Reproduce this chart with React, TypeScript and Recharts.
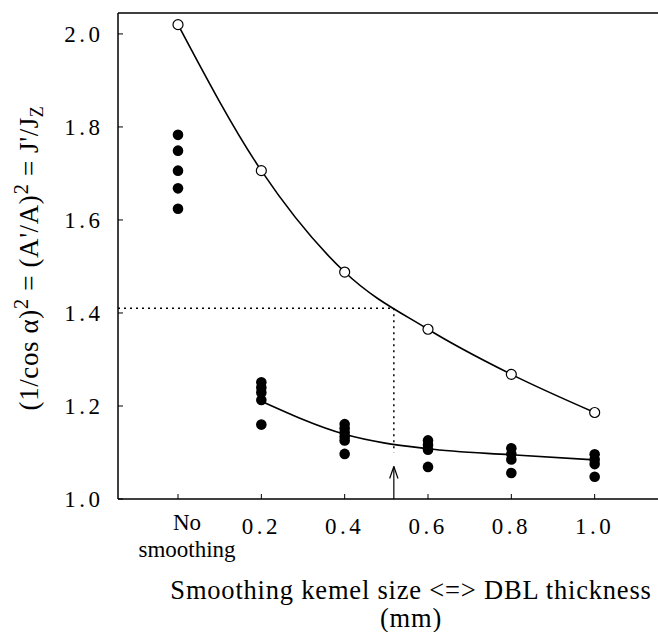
import React from 'react'
import { ComposedChart, Line, Scatter, XAxis, YAxis, ReferenceLine, Label } from 'recharts'

const FONT = 'Liberation Serif'

// x positions: 0 stands for "No smoothing"
const kernelSizes = [0, 0.2, 0.4, 0.6, 0.8, 1.0]
const yTicks = [1.0, 1.2, 1.4, 1.6, 1.8, 2.0]

// open circles, (1/cos a)^2 per kernel size
const openValues = [2.02, 1.706, 1.488, 1.365, 1.268, 1.186]

// fitted curve through the filled points (0.2 .. 1.0)
const fitSizes = [0.2, 0.4, 0.6, 0.8, 1.0]
const fitValues = [1.21, 1.139, 1.108, 1.095, 1.084]

// filled points, one list per kernel size
const dotsNoSmoothing = [1.783, 1.749, 1.706, 1.668, 1.624]
const dots02 = [1.251, 1.240, 1.229, 1.213, 1.160]
const dots04 = [1.161, 1.152, 1.143, 1.134, 1.126, 1.097]
const dots06 = [1.126, 1.116, 1.106, 1.069]
const dots08 = [1.109, 1.097, 1.085, 1.056]
const dots10 = [1.096, 1.085, 1.075, 1.048]

// annotation: 1.41 read at 0.52 mm
const markY = 1.41
const markX = 0.518
const dottedEndY = 1.1
const arrowTipY = 1.07

const X_MIN = -0.144
const X_MAX = 1.152
const Y_MIN = 1.0
const Y_MAX = 2.045

const openData = kernelSizes.map((x, i) => ({ x, y: openValues[i] }))
const fitData = fitSizes.map((x, i) => ({ x, y: fitValues[i] }))
const dotGroups = [dotsNoSmoothing, dots02, dots04, dots06, dots08, dots10]
const filledData = dotGroups.flatMap((ys, i) => ys.map((y) => ({ x: kernelSizes[i], y })))

const XTick = (props: any) => {
  const { x, y, payload } = props
  const v = payload.value
  return (
    <g>
      <line x1={x} y1={y} x2={x} y2={y - 5} stroke="#000" strokeWidth={1} />
      {v === 0 ? (
        <text style={{ fontFamily: FONT }} fontSize={23} fill="#000" textAnchor="middle">
          <tspan x={x + 9} y={y + 31}>No</tspan>
          <tspan x={x + 9} y={y + 58}>smoothing</tspan>
        </text>
      ) : (
        <text x={x} y={y + 35} style={{ fontFamily: FONT }} fontSize={23} letterSpacing={3.5} fill="#000" textAnchor="middle">
          {v.toFixed(1)}
        </text>
      )}
    </g>
  )
}

const YTick = (props: any) => {
  const { x, y, payload } = props
  return (
    <g>
      <line x1={x} y1={y} x2={x + 5} y2={y} stroke="#000" strokeWidth={1} />
      <text x={x - 14.5} y={y} dy="0.35em" style={{ fontFamily: FONT }} fontSize={23} letterSpacing={3.5} fill="#000" textAnchor="end">
        {payload.value.toFixed(1)}
      </text>
    </g>
  )
}

const YTitle = (props: any) => {
  const vb = props.viewBox
  const cx = vb.x + 29
  const cy = vb.y + vb.height / 2 + 2
  return (
    <text x={cx} y={cy} transform={`rotate(-90, ${cx}, ${cy})`} style={{ fontFamily: FONT }} fontSize={27} letterSpacing={0.6} fill="#000" textAnchor="middle" dy="0.35em">
      <tspan>(1/cos α)</tspan>
      <tspan dy={-10} fontSize={21}>2</tspan>
      <tspan dy={10}> = (A'/A)</tspan>
      <tspan dy={-10} fontSize={21}>2</tspan>
      <tspan dy={10}> = J'/J</tspan>
      <tspan dy={5} fontSize={18}>Z</tspan>
    </text>
  )
}

const XTitle = (props: any) => {
  const vb = props.viewBox
  const cx = vb.x + 293
  return (
    <text style={{ fontFamily: FONT }} fontSize={26.5} fill="#000" textAnchor="middle" letterSpacing={0.8}>
      <tspan x={cx} y={vb.y + 100}>Smoothing kemel size &lt;=&gt; DBL thickness</tspan>
      <tspan x={cx} y={vb.y + 128}>(mm)</tspan>
    </text>
  )
}

const OpenDot = (props: any) => {
  const { cx, cy } = props
  if (cx == null || cy == null) return null
  return <circle cx={cx} cy={cy} r={5} fill="#fff" stroke="#000" strokeWidth={1.2} />
}

const FilledDot = (props: any) => {
  const { cx, cy } = props
  if (cx == null || cy == null) return null
  return <circle cx={cx} cy={cy} r={5.3} fill="#000" />
}

export default function App() {
  return (
    <div style={{ position: 'absolute', left: 0, top: 0, background: '#fff' }}>
      <ComposedChart width={658} height={632} margin={{ top: 13, right: 0, bottom: 0, left: 0 }}>
        <XAxis
          type="number"
          dataKey="x"
          domain={[X_MIN, X_MAX]}
          ticks={kernelSizes}
          allowDataOverflow
          height={133}
          tickSize={0}
          tickMargin={0}
          tickLine={false}
          tick={<XTick />}
          axisLine={{ stroke: '#000', strokeWidth: 1.5 }}
        >
          <Label content={<XTitle />} />
        </XAxis>
        <YAxis
          type="number"
          dataKey="y"
          domain={[Y_MIN, Y_MAX]}
          ticks={yTicks}
          allowDataOverflow
          width={118}
          tickSize={0}
          tickMargin={0}
          tickLine={false}
          tick={<YTick />}
          axisLine={{ stroke: '#000', strokeWidth: 1.5 }}
        >
          <Label content={<YTitle />} />
        </YAxis>
        <ReferenceLine y={Y_MAX} stroke="#000" strokeWidth={1.5} />
        <ReferenceLine
          segment={[{ x: X_MIN, y: markY }, { x: markX, y: markY }]}
          stroke="#000"
          strokeWidth={1.5}
          strokeDasharray="2 4"
        />
        <ReferenceLine
          segment={[{ x: markX, y: markY }, { x: markX, y: dottedEndY }]}
          stroke="#000"
          strokeWidth={1.5}
          strokeDasharray="2 4"
        />
        <ReferenceLine segment={[{ x: markX, y: Y_MIN }, { x: markX, y: arrowTipY }]} stroke="#000" strokeWidth={1.2} />
        <ReferenceLine segment={[{ x: markX - 0.01, y: arrowTipY - 0.026 }, { x: markX, y: arrowTipY }]} stroke="#000" strokeWidth={1.2} />
        <ReferenceLine segment={[{ x: markX + 0.01, y: arrowTipY - 0.026 }, { x: markX, y: arrowTipY }]} stroke="#000" strokeWidth={1.2} />
        <Line
          data={fitData}
          dataKey="y"
          type="monotone"
          stroke="#000"
          strokeWidth={1.6}
          dot={false}
          activeDot={false}
          isAnimationActive={false}
        />
        <Scatter data={filledData} dataKey="y" fill="#000" shape={<FilledDot />} isAnimationActive={false} />
        <Line
          data={openData}
          dataKey="y"
          type="monotone"
          stroke="#000"
          strokeWidth={1.6}
          dot={<OpenDot />}
          activeDot={false}
          isAnimationActive={false}
        />
      </ComposedChart>
    </div>
  )
}
